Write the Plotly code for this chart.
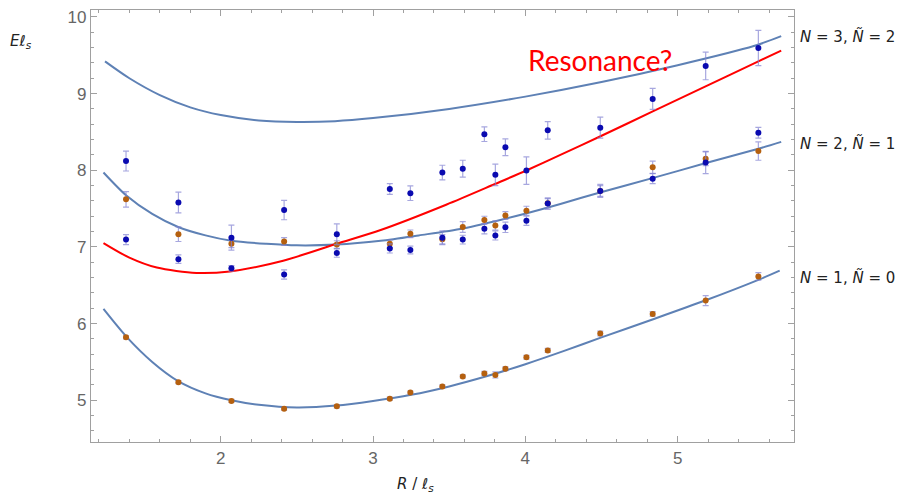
import plotly.graph_objects as go

# Separation values at which the spectrum was measured
R = [1.378, 1.722, 2.07, 2.416, 2.762, 3.11, 3.245, 3.455, 3.589, 3.731,
     3.803, 3.869, 4.007, 4.147, 4.492, 4.836, 5.184, 5.53]

# Ground level (orange)
E_ground = [5.82, 5.235, 4.99, 4.89, 4.92, 5.02, 5.10, 5.18, 5.31, 5.35,
            5.33, 5.41, 5.56, 5.65, 5.87, 6.125, 6.30, 6.615]
E_ground_err = [0.02, 0.02, 0.02, 0.02, 0.02, 0.02, 0.02, 0.02, 0.02, 0.025,
                0.04, 0.025, 0.025, 0.025, 0.03, 0.03, 0.065, 0.05]

# First excited level (orange)
E_exc = [7.62, 7.165, 7.04, 7.07, 7.03, 7.04, 7.17, 7.10, 7.26, 7.35,
         7.28, 7.41, 7.47, 7.57, 7.73, 8.04, 8.15, 8.25]
E_exc_err = [0.10, 0.095, 0.05, 0.05, 0.05, 0.05, 0.05, 0.06, 0.07, 0.05,
             0.06, 0.05, 0.06, 0.06, 0.07, 0.08, 0.09, 0.12]

# Other channel, lower state (blue)
E_blue_lo = [7.095, 6.84, 6.72, 6.64, 6.92, 6.98, 6.96, 7.12, 7.095, 7.235,
             7.15, 7.255, 7.34, 7.565, 7.73, 7.89, 8.10, 8.49]
E_blue_lo_err = [0.065, 0.056, 0.035, 0.06, 0.055, 0.06, 0.05, 0.09, 0.057, 0.065,
                 0.06, 0.067, 0.06, 0.075, 0.085, 0.065, 0.145, 0.07]

# Other channel, upper state (blue)
E_blue_hi = [8.12, 7.58, 7.12, 7.48, 7.165, 7.756, 7.70, 7.97, 8.02, 8.47,
             7.94, 8.30, 7.995, 8.52, 8.555, 8.93, 9.36, 9.595]
E_blue_hi_err = [0.13, 0.135, 0.163, 0.126, 0.135, 0.07, 0.095, 0.095, 0.11, 0.095,
                 0.14, 0.11, 0.18, 0.115, 0.137, 0.137, 0.18, 0.23]

# Model curves
curve1_R = [1.23, 1.38, 1.55, 1.72, 1.9, 2.07, 2.25, 2.5, 2.76, 3.0, 3.25, 3.5,
            3.75, 4.0, 4.25, 4.5, 4.83, 5.18, 5.53, 5.67]
curve1_E = [6.19, 5.83, 5.50, 5.25, 5.09, 5.00, 4.94, 4.905, 4.93, 4.99, 5.07, 5.18,
            5.315, 5.47, 5.64, 5.82, 6.05, 6.30, 6.57, 6.69]

curve2_R = [1.23, 1.38, 1.55, 1.72, 1.9, 2.07, 2.3, 2.5, 2.76, 3.05, 3.3, 3.59,
            4.01, 4.23, 4.49, 4.84, 5.18, 5.53, 5.68]
curve2_E = [7.97, 7.67, 7.43, 7.26, 7.15, 7.08, 7.04, 7.02, 7.03, 7.08, 7.15, 7.24,
            7.44, 7.56, 7.71, 7.90, 8.09, 8.28, 8.37]

curve3_R = [1.24, 1.4, 1.6, 1.8, 2.0, 2.25, 2.5, 2.75, 3.0, 3.5, 4.0, 4.5,
            5.0, 5.5, 5.68]
curve3_E = [9.42, 9.20, 8.98, 8.82, 8.72, 8.65, 8.63, 8.64, 8.68, 8.80, 8.96, 9.15,
            9.37, 9.62, 9.75]

res_R = [1.23, 1.40, 1.58, 1.84, 2.06, 2.41, 2.76, 3.05, 3.48, 3.80, 4.01, 4.23,
         4.49, 4.84, 5.18, 5.53, 5.68]
res_E = [7.05, 6.86, 6.73, 6.66, 6.68, 6.82, 7.04, 7.22, 7.55, 7.82, 8.00, 8.20,
         8.44, 8.77, 9.09, 9.42, 9.56]

level_labels = ["<i>N</i> = 1, <i>Ñ</i> = 0",
                "<i>N</i> = 2, <i>Ñ</i> = 1",
                "<i>N</i> = 3, <i>Ñ</i> = 2"]
level_label_E = [6.60, 8.35, 9.75]

LINE_BLUE = "#5E81B5"
PT_BLUE = "#0A0AB0"
PT_ORANGE = "#B5600F"
ERR_COL = "rgba(130,130,210,0.7)"

fig = go.Figure()

for xs, ys in [(curve1_R, curve1_E), (curve2_R, curve2_E), (curve3_R, curve3_E)]:
    fig.add_trace(go.Scatter(x=xs, y=ys, mode="lines",
                             line=dict(color=LINE_BLUE, width=2, shape="spline", smoothing=0.8),
                             hoverinfo="skip"))
fig.add_trace(go.Scatter(x=res_R, y=res_E, mode="lines",
                         line=dict(color="#FF0000", width=2, shape="spline", smoothing=0.8),
                         hoverinfo="skip"))


def points(ys, errs, color):
    return go.Scatter(x=R, y=ys, mode="markers",
                      marker=dict(color=color, size=6),
                      error_y=dict(type="data", array=errs, visible=True,
                                   color=ERR_COL, thickness=1.2, width=3))


fig.add_trace(points(E_ground, E_ground_err, PT_ORANGE))
fig.add_trace(points(E_exc, E_exc_err, PT_ORANGE))
fig.add_trace(points(E_blue_lo, E_blue_lo_err, PT_BLUE))
fig.add_trace(points(E_blue_hi, E_blue_hi_err, PT_BLUE))

axis_common = dict(
    showgrid=False, zeroline=False, showline=True, linecolor="#A0A0A0", linewidth=1.3,
    mirror="ticks", ticks="inside", ticklen=6, tickcolor="#A0A0A0", tickwidth=1,
    tickfont=dict(family="Liberation Sans", size=17, color="#666666"),
)

fig.update_layout(
    width=900, height=497,
    margin=dict(l=91, r=106, t=8, b=55),
    plot_bgcolor="white", paper_bgcolor="white",
    showlegend=False,
    xaxis=dict(range=[1.148, 5.764], tickvals=[2, 3, 4, 5],
               minor=dict(dtick=0.2, tick0=0, ticks="inside", ticklen=3,
                          tickcolor="#A0A0A0"),
               **axis_common),
    yaxis=dict(range=[4.455, 10.09], tickvals=[5, 6, 7, 8, 9, 10],
               minor=dict(dtick=0.2, tick0=0, ticks="inside", ticklen=3,
                          tickcolor="#A0A0A0"),
               **axis_common),
)

label_font = dict(family="DejaVu Sans", size=15, color="#222222")
for txt, e in zip(level_labels, level_label_E):
    fig.add_annotation(x=1.005, xref="paper", y=e, yref="y", text=txt,
                       showarrow=False, xanchor="left", yanchor="middle", font=label_font)

fig.add_annotation(x=-0.118, xref="paper", y=9.68, yref="y",
                   text="<i>Eℓ</i><sub><i>s</i></sub>", showarrow=False,
                   xanchor="left", yanchor="middle", font=label_font)
fig.add_annotation(x=0.461, xref="paper", y=-0.098, yref="paper",
                   text="<i>R</i> / <i>ℓ</i><sub><i>s</i></sub>", showarrow=False,
                   xanchor="center", yanchor="middle", font=label_font)

fig.add_annotation(x=4.49, y=9.44, xref="x", yref="y", text="Resonance?",
                   showarrow=False, xanchor="center", yanchor="middle",
                   font=dict(family="Lato", size=28, color="#FF0000"))

fig.write_html("out.html")
